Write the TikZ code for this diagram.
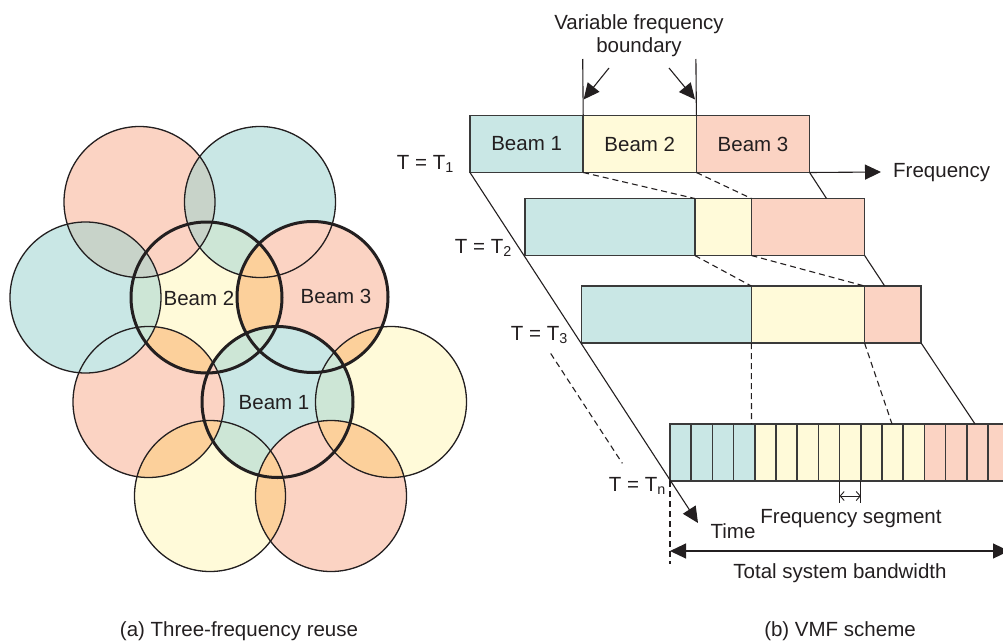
\documentclass[tikz,border=0pt]{standalone}
\usepackage{fontspec}
\setmainfont{Liberation Sans}
\usetikzlibrary{arrows.meta}

\definecolor{cpink}{HTML}{FBD3C3}
\definecolor{cteal}{HTML}{C9E7E5}
\definecolor{cyell}{HTML}{FFFAD9}
\definecolor{corange}{HTML}{FCD09B}
\definecolor{cgreen}{HTML}{CDE6D6}
\definecolor{cgray}{HTML}{C8D3C9}
\definecolor{ink}{HTML}{231F20}
\definecolor{boxline}{HTML}{3A3A3A}

% radius of every coverage circle
\newcommand\cellR{75.5pt}
% fill the overlap of two circles
\newcommand\lensfill[3]{\begin{scope}\clip (#1) circle[radius=\cellR];\fill[#3] (#2) circle[radius=\cellR];\end{scope}}
% fill the overlap of three circles
\newcommand\trifill[4]{\begin{scope}\clip (#1) circle[radius=\cellR];\clip (#2) circle[radius=\cellR];\fill[#4] (#3) circle[radius=\cellR];\end{scope}}

\tikzset{
  lbl/.style={font=\fontsize{20.5}{23}\selectfont, text=ink, inner sep=0pt},
  thinring/.style={draw=ink, line width=1.3pt},
  thickring/.style={draw=ink, line width=3pt},
  band/.style={draw=boxline, line width=1.5pt, inner sep=0pt, outer sep=0pt,
    minimum height=57pt, anchor=north west, font=\fontsize{20.5}{23}\selectfont, text=ink},
  seg/.style={band, minimum width=21.2pt},
  conn/.style={draw=ink, line width=1.1pt},
  dashconn/.style={conn, dash pattern=on 6pt off 4pt},
  bigtip/.style={-{Triangle[length=16pt,width=15pt]}},
}

\begin{document}
\begin{tikzpicture}[x=1pt, y=-1pt]
\useasboundingbox (0,0) rectangle (1003,642);

% ---------------- (a) three-frequency reuse ----------------
\coordinate (cA) at (139.5,202);   % pink
\coordinate (cB) at (260,202);     % teal
\coordinate (cC) at (85.5,297.5);  % teal
\coordinate (cD) at (206.5,297.5); % beam 2, yellow
\coordinate (cE) at (312.5,297);   % beam 3, pink
\coordinate (cF) at (148.5,402);   % pink
\coordinate (cG) at (277.5,402);   % beam 1, teal
\coordinate (cH) at (391,402);     % yellow
\coordinate (cI) at (210,496);     % yellow
\coordinate (cJ) at (331,496);     % pink

% base fills
\fill[cpink] (cA) circle[radius=\cellR];
\fill[cteal] (cB) circle[radius=\cellR];
\fill[cteal] (cC) circle[radius=\cellR];
\fill[cyell] (cD) circle[radius=\cellR];
\fill[cpink] (cE) circle[radius=\cellR];
\fill[cpink] (cF) circle[radius=\cellR];
\fill[cteal] (cG) circle[radius=\cellR];
\fill[cyell] (cH) circle[radius=\cellR];
\fill[cyell] (cI) circle[radius=\cellR];
\fill[cpink] (cJ) circle[radius=\cellR];

% pairwise overlaps
\lensfill{cA}{cB}{cgray}
\lensfill{cA}{cC}{cgray}
\lensfill{cA}{cD}{cpink}
\lensfill{cB}{cD}{cgreen}
\lensfill{cB}{cE}{cpink}
\lensfill{cC}{cD}{cgreen}
\lensfill{cC}{cF}{cteal}
\lensfill{cD}{cE}{corange}
\lensfill{cD}{cF}{corange}
\lensfill{cD}{cG}{cgreen}
\lensfill{cE}{cG}{cteal}
\lensfill{cE}{cH}{corange}
\lensfill{cF}{cG}{cpink}
\lensfill{cF}{cI}{corange}
\lensfill{cG}{cH}{cgreen}
\lensfill{cG}{cI}{cgreen}
\lensfill{cG}{cJ}{cpink}
\lensfill{cH}{cJ}{corange}
\lensfill{cI}{cJ}{corange}

% triple overlaps
\trifill{cA}{cB}{cD}{cgray}
\trifill{cA}{cC}{cD}{cgray}
\trifill{cB}{cD}{cE}{corange}
\trifill{cC}{cD}{cF}{cgreen}
\trifill{cD}{cE}{cG}{cgreen}
\trifill{cE}{cG}{cH}{cgreen}
\trifill{cG}{cH}{cJ}{corange}
\trifill{cF}{cG}{cI}{corange}
\trifill{cG}{cI}{cJ}{corange}

% outlines
\foreach \c in {cA,cB,cC,cF,cH,cI,cJ}
  \draw[thinring] (\c) circle[radius=\cellR];
\foreach \c in {cD,cE,cG}
  \draw[thickring] (\c) circle[radius=\cellR];

\node[lbl] (lb2) at (199,298) {Beam 2};
\node[lbl] (lb3) at (336,296) {Beam 3};
\node[lbl] (lb1) at (274,403) {Beam 1};

\node[lbl] (capa) at (239,631) {(a) Three-frequency reuse};

% ---------------- (b) VMF scheme ----------------
% row T1
\node[band, fill=cteal, minimum width=113.2pt] (r1a) at (470,115.5) {Beam 1};
\node[band, fill=cyell, minimum width=113.2pt] (r1b) at (r1a.north east) {Beam 2};
\node[band, fill=cpink, minimum width=113.2pt] (r1c) at (r1b.north east) {Beam 3};
% row T2
\node[band, fill=cteal, minimum width=169.8pt] (r2a) at (525,198.5) {};
\node[band, fill=cyell, minimum width=56.6pt]  (r2b) at (r2a.north east) {};
\node[band, fill=cpink, minimum width=113.2pt] (r2c) at (r2b.north east) {};
% row T3
\node[band, fill=cteal, minimum width=169.8pt] (r3a) at (581.5,286) {};
\node[band, fill=cyell, minimum width=113.2pt] (r3b) at (r3a.north east) {};
\node[band, fill=cpink, minimum width=56.6pt]  (r3c) at (r3b.north east) {};
% row Tn: frequency segments
\foreach \i in {0,...,15}{
  \pgfmathsetmacro\segx{670+\i*21.2}
  \ifnum\i<4 \def\segcol{cteal}\else\ifnum\i<12 \def\segcol{cyell}\else\def\segcol{cpink}\fi\fi
  \node[seg, fill=\segcol] (s\i) at (\segx,424) {};
}

% row labels
\node[lbl, anchor=east] (t1) at (454,164) {T = T\textsubscript{1}};
\node[lbl, anchor=east] (t2) at (512,248) {T = T\textsubscript{2}};
\node[lbl, anchor=east] (t3) at (568,335) {T = T\textsubscript{3}};
\node[lbl, anchor=east] (tn) at (666,486) {T = T\textsubscript{n}};

% variable frequency boundary
\coordinate (vb1) at (582.7,59);
\coordinate (vb2) at (695.9,59);
\draw[conn] (r1a.north east) -- (vb1);
\draw[conn] (r1b.north east) -- (vb2);
\node[lbl, align=center] (vfb) at (639,36) {Variable frequency\\boundary};
\coordinate (ba1) at (609,68);
\coordinate (bt1) at (583.6,99.5);
\coordinate (ba2) at (669,68);
\coordinate (bt2) at (695,99.5);
\draw[conn, bigtip] (ba1) -- (bt1);
\draw[conn, bigtip] (ba2) -- (bt2);

% frequency axis
\coordinate (fend) at (881,172);
\draw[conn, bigtip] (r1c.south east) -- (fend);
\node[lbl, anchor=west] (flab) at (893,173) {Frequency};

% time axis
\coordinate (tend) at (698,523);
\draw[conn, bigtip] (r1a.south west) -- (tend);
\node[lbl] (tlab) at (733,531) {Time};

% outer edges carried from row to row
\coordinate (e12) at (826.5,198.5);
\coordinate (e23) at (884.7,286);
\coordinate (e3n) at (975,424);
\draw[conn] (r1c.south east) -- (e12);
\draw[conn] (r2c.south east) -- (e23);
\draw[conn] (r3c.south east) -- (e3n);

% boundary shifts between rows
\coordinate (d3n) at (751.5,424);
\coordinate (d4n) at (892,424);
\draw[dashconn] (r1a.south east) -- (r2a.north east);
\draw[dashconn] (r1b.south east) -- (r2b.north east);
\draw[dashconn] (r2a.south east) -- (r3a.north east);
\draw[dashconn] (r2b.south east) -- (r3b.north east);
\draw[dashconn] (r3a.south east) -- (d3n);
\draw[dashconn] (r3b.south east) -- (d4n);

% elided rows
\coordinate (el1) at (550.7,353.5);
\coordinate (el2) at (622.3,463.3);
\draw[dashconn] (el1) -- (el2);

% frequency segment width
\coordinate (fs1) at (s8.south west |- 0,503);
\coordinate (fs2) at (s8.south east |- 0,503);
\draw[conn, line width=0.9pt] (s8.south west) -- (fs1);
\draw[conn, line width=0.9pt] (s8.south east) -- (fs2);
\coordinate (fa1) at (s8.south west |- 0,496);
\coordinate (fa2) at (s8.south east |- 0,496);
\draw[conn, line width=0.9pt, {Straight Barb[length=4pt,width=9pt]}-{Straight Barb[length=4pt,width=9pt]}] (fa1) -- (fa2);
\node[lbl] (fslab) at (851,519) {Frequency segment};

% total bandwidth
\coordinate (tdash) at (670,564);
\draw[dashconn] (s0.south west) -- (tdash);
\coordinate (bwl) at (670,551);
\coordinate (bwr) at (1009,551);
\draw[conn, {Triangle[length=16pt,width=15pt]}-{Triangle[length=16pt,width=15pt]}] (bwl) -- (bwr);
\node[lbl] (bwlab) at (840,573) {Total system bandwidth};

\node[lbl] (capb) at (840,631) {(b) VMF scheme};
\end{tikzpicture}
\end{document}
